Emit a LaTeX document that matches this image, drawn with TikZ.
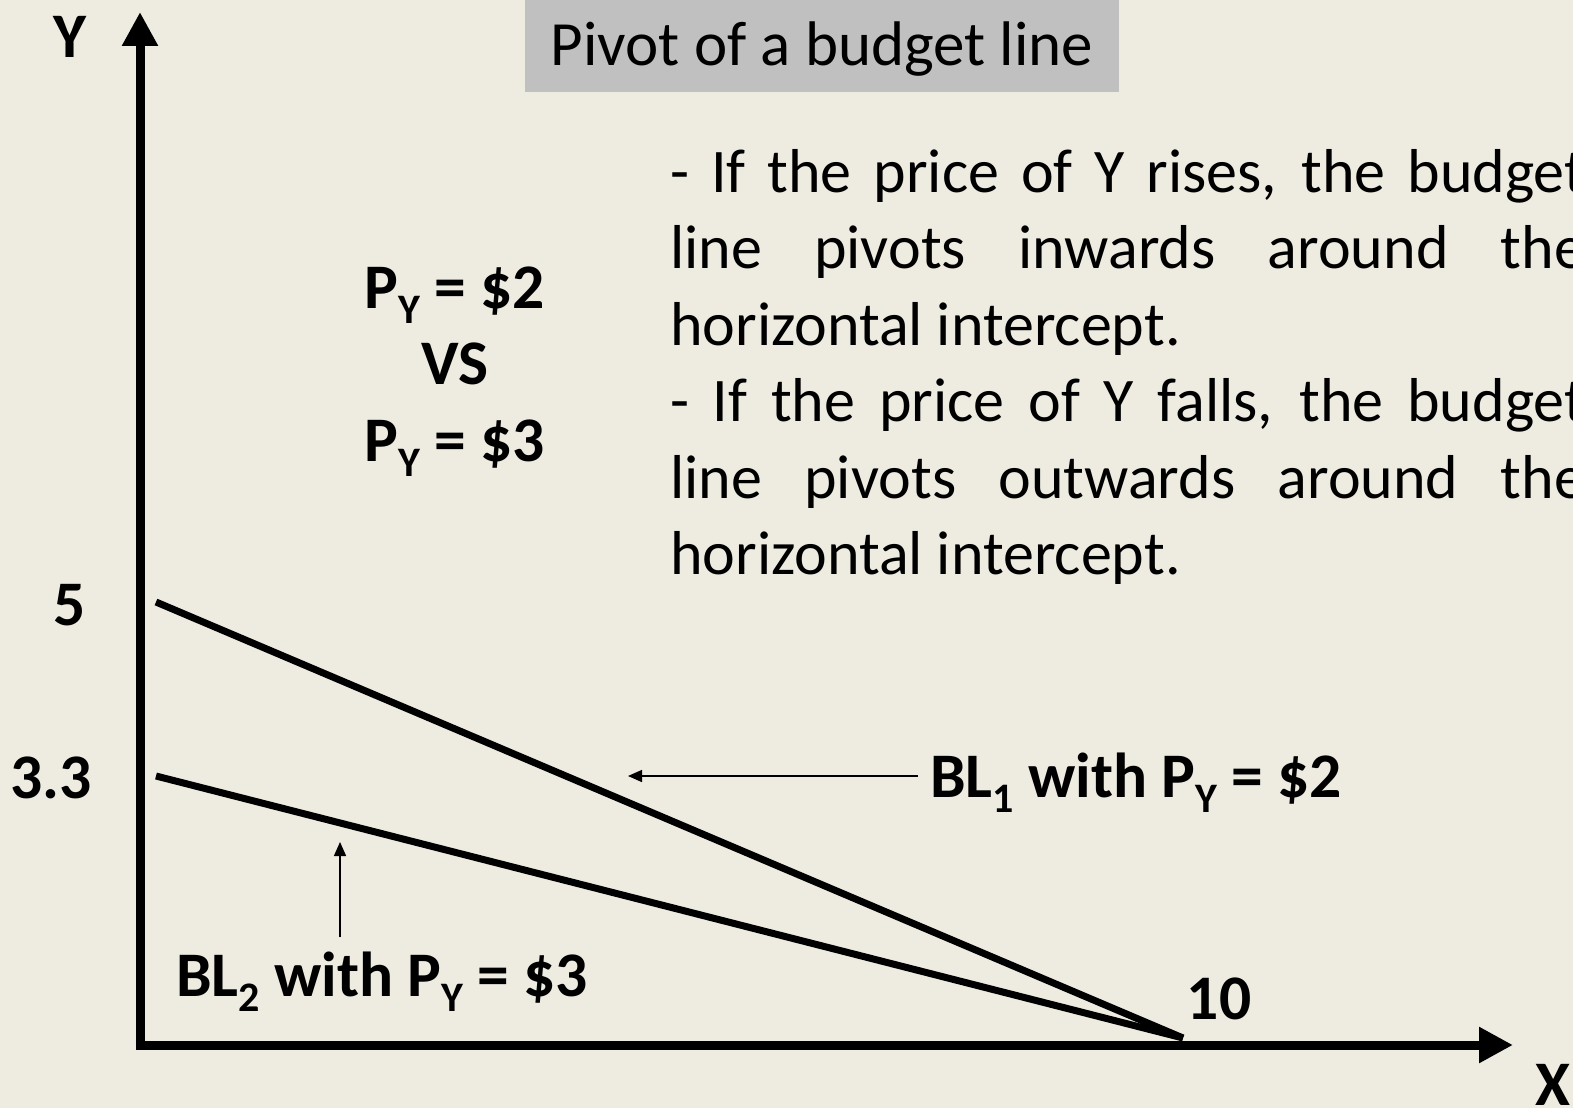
\documentclass[tikz,border=0pt]{standalone}
\usepackage{fontspec}
\setmainfont{Carlito}
\usetikzlibrary{arrows.meta,positioning}
\definecolor{paper}{HTML}{EEECE1}
\definecolor{titlegray}{HTML}{C0C0C0}
\newcommand{\lowsub}[1]{\raisebox{-0.24em}{\fontsize{42}{42}\selectfont #1}}

\begin{document}
\begin{tikzpicture}[x=1pt,y=-1pt,font=\fontsize{62}{76.5}\selectfont,>=Latex]
\tikzset{lab/.style={font=\fontsize{63.5}{76.5}\selectfont\bfseries,inner sep=0pt,anchor=base}, ax/.style={line width=9pt,-{Triangle[length=34pt,width=34pt]}}, bl/.style={line width=7pt}, pt/.style={line width=1.5pt,-{Triangle[length=14pt,width=12pt]}}}
\fill[paper] (0,0) rectangle (1573,1108);
\clip (0,0) rectangle (1573,1108);
% axes
\coordinate (ybot) at (140,1049.5);
\coordinate (ytop) at (140,12);
\coordinate (xbeg) at (135.5,1045);
\coordinate (xend) at (1513,1045);
\draw[ax] (ybot)--(ytop);\draw[ax] (xbeg)--(xend);
\node[lab] (ylab) at (70,58) {Y};
\node[lab] (xlab) at (1553,1105) {X};
\node[lab] (five) at (70,625) {5};
\node[lab] (third) at (51,798) {3.3};
\node[lab] (ten) at (1219,1019) {10};
% budget lines
\coordinate (a1) at (156,602);
\coordinate (a2) at (156,776);
\coordinate (piv) at (1183,1038);
\draw[bl] (a1)--(piv);\draw[bl] (a2)--(piv);
% labels with pointers
\node[lab,anchor=base west] (bla) at (930,797) {BL\lowsub{1} with P\lowsub{Y} = \$2};
\node[lab,anchor=base west] (blb) at (176,996) {BL\lowsub{2} with P\lowsub{Y} = \$3};
\coordinate (tipa) at (628,776);
\coordinate (tipb) at (340,842);
\draw[pt] ([xshift=-12pt]tipa -| bla.west)--(tipa);
\draw[pt] ([yshift=14pt]tipb |- blb.north)--(tipb);
\node[lab,align=center] (cmp) at (455,461) {P\lowsub{Y} = \$2\\VS\\P\lowsub{Y} = \$3};
% title and text
\node[fill=titlegray,minimum width=594pt,minimum height=92pt,inner sep=0pt,text height=52pt,text depth=12pt,font=\fontsize{63}{76.5}\selectfont] (title) at (822,46) {Pivot of a budget line};
\node[inner sep=0pt,anchor=base west,text width=915pt,align=justify] (txt) at (670,192) {- If the price of Y rises, the budget\linebreak line pivots inwards around the\linebreak horizontal intercept.\par - If the price of Y falls, the budget\linebreak line pivots outwards around the\linebreak horizontal intercept.};
\end{tikzpicture}
\end{document}
